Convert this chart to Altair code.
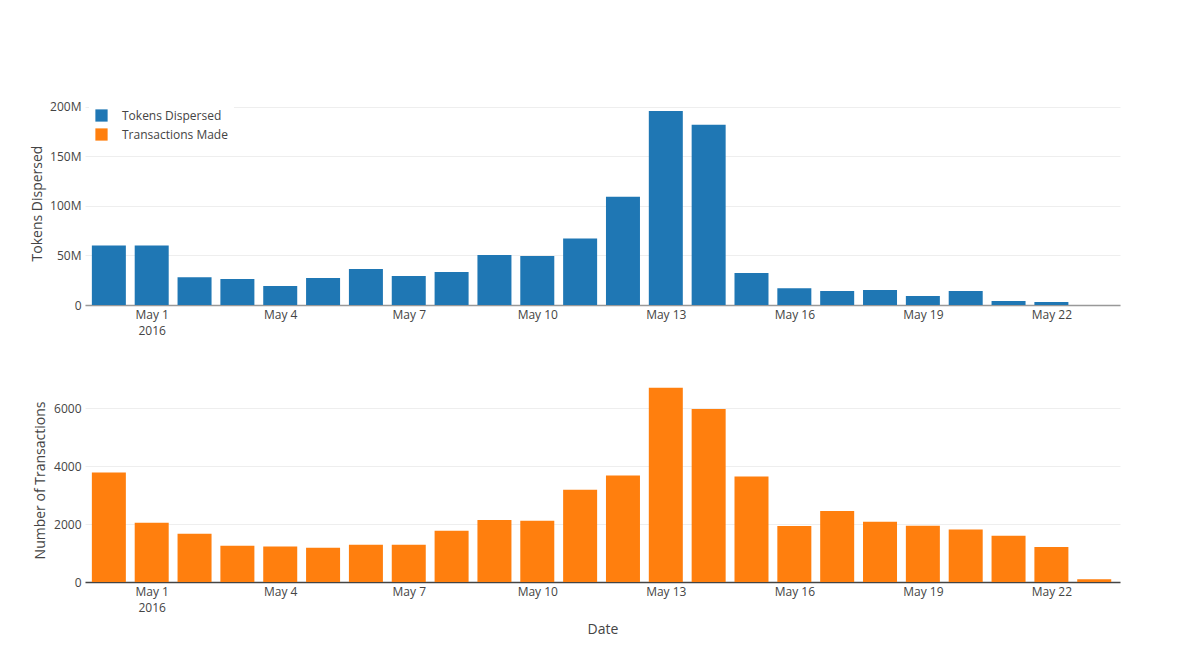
import altair as alt
import pandas as pd

dates = ["2016-04-30", "2016-05-01", "2016-05-02", "2016-05-03", "2016-05-04",
         "2016-05-05", "2016-05-06", "2016-05-07", "2016-05-08", "2016-05-09",
         "2016-05-10", "2016-05-11", "2016-05-12", "2016-05-13", "2016-05-14",
         "2016-05-15", "2016-05-16", "2016-05-17", "2016-05-18", "2016-05-19",
         "2016-05-20", "2016-05-21", "2016-05-22", "2016-05-23"]
tokens_millions = [60.0, 60.0, 28.0, 26.2, 19.2, 27.2, 36.3, 29.2, 33.3, 50.4,
                   49.4, 67.2, 109.2, 195.9, 182.1, 32.3, 16.8, 14.1, 15.1, 9.1,
                   14.1, 4.0, 3.0, 0.0]
transactions = [3780, 2045, 1665, 1252, 1229, 1183, 1286, 1286, 1770, 2138,
                2115, 3183, 3678, 6711, 5977, 3643, 1931, 2448, 2080, 1943,
                1816, 1597, 1207, 92]
series_names = ["Tokens Dispersed", "Transactions Made"]
series_colors = ["#1f77b4", "#ff7f0e"]
tick_days = [1, 4, 7, 10, 13, 16, 19, 22]

df_tokens = pd.DataFrame({"date": dates,
                          "value": [v * 1e6 for v in tokens_millions],
                          "series": series_names[0]})
df_tx = pd.DataFrame({"date": dates, "value": transactions,
                      "series": series_names[1]})


def utc(m, d, h=0, mi=0):
    return alt.DateTime(year=2016, month=m, date=d, hours=h, minutes=mi, utc=True)


W, H = 1035, 204
BAR_W = 34

xscale = alt.Scale(type="utc", domain=[utc(4, 29, 13, 26), utc(5, 23, 11, 38)],
                   nice=False)
label_expr = ("utcdate(datum.value) == 1 ? [utcFormat(datum.value, '%b %-d'), '2016']"
              " : utcFormat(datum.value, '%b %-d')")


def xaxis(title, domain_color):
    kw = dict(values=[utc(5, d) for d in tick_days], labelExpr=label_expr,
              grid=False, ticks=False, domain=True, domainColor=domain_color,
              domainWidth=1.5, labelPadding=4, labelLineHeight=16,
              labelAngle=0)
    if title:
        kw["title"] = title
        kw["titlePadding"] = 9
    else:
        kw["title"] = None
    return alt.Axis(**kw)


legend = alt.Legend(title=None, orient="none", legendX=4, legendY=2,
                    fillColor="white", symbolType="square", symbolSize=150,
                    symbolStrokeWidth=0, labelFontSize=12, labelColor="#444",
                    labelFont="Open Sans", labelOffset=14, rowPadding=6,
                    padding=6)
color = alt.Color("series:N",
                  scale=alt.Scale(domain=series_names, range=series_colors),
                  legend=legend)

top = alt.Chart(df_tokens).mark_bar(width=BAR_W).encode(
    x=alt.X("date:T", scale=xscale, axis=xaxis(None, "#999")),
    y=alt.Y("value:Q", scale=alt.Scale(domain=[0, 206e6], nice=False),
            axis=alt.Axis(title="Tokens Dispersed",
                          labelExpr="datum.value == 0 ? '0' : format(datum.value, '~s')",
                          values=[0, 50e6, 100e6, 150e6, 200e6],
                          grid=True, gridColor="#eee", domain=False,
                          ticks=False, labelPadding=4, titlePadding=5)),
    color=color,
).properties(width=W, height=H)

bottom = alt.Chart(df_tx).mark_bar(width=BAR_W).encode(
    x=alt.X("date:T", scale=xscale, axis=xaxis("Date", "#444")),
    y=alt.Y("value:Q", scale=alt.Scale(domain=[0, 7046], nice=False),
            axis=alt.Axis(title="Number of Transactions", format="d",
                          values=[0, 2000, 4000, 6000],
                          grid=True, gridColor="#eee", domain=False,
                          ticks=False, labelPadding=4, titlePadding=6)),
    color=color,
).properties(width=W, height=H)

chart = alt.vconcat(top, bottom, spacing=73, bounds="flush").properties(
    padding={"left": 22, "top": 92, "right": 5, "bottom": 5}
).configure_axis(
    labelFont="Open Sans", titleFont="Open Sans", labelColor="#444",
    titleColor="#444", labelFontSize=12, titleFontSize=14,
    titleFontWeight="normal",
).configure_view(stroke=None)

chart.save("out.html", embed_options={"renderer": "svg", "actions": False})
